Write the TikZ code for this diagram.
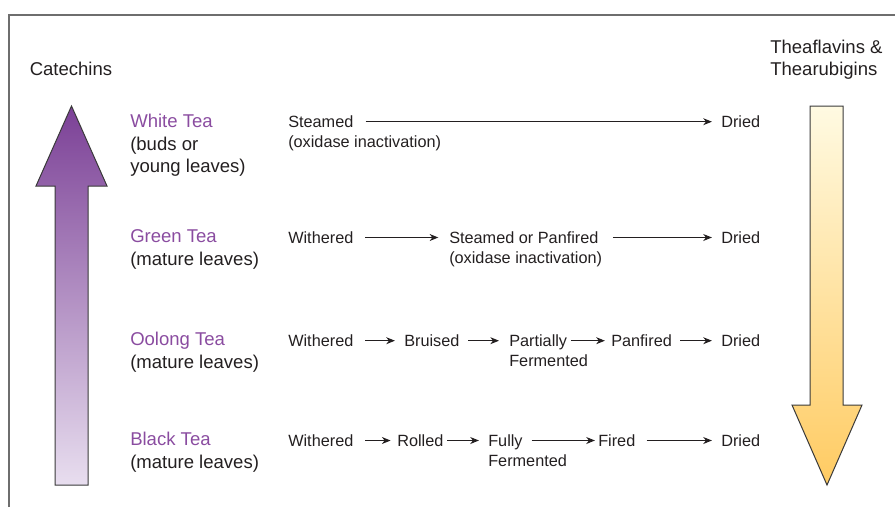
\documentclass[tikz,border=0pt]{standalone}
\usepackage{fontspec}
\setmainfont{Liberation Sans}
\usetikzlibrary{arrows.meta}
\definecolor{txt}{HTML}{231F20}
\definecolor{teapurple}{RGB}{138,76,160}
\definecolor{framegray}{HTML}{6E6E6E}
\definecolor{purtop}{HTML}{7B4096}
\definecolor{purbot}{HTML}{E8DEEF}
\definecolor{yeltop}{HTML}{FFFAE2}
\definecolor{yelbot}{HTML}{FFCB62}
\definecolor{outl}{HTML}{3A3A3A}
\begin{document}
\begin{tikzpicture}[x=0.75pt,y=-0.75pt,
  hdr/.style={font=\fontsize{13.9pt}{16.5pt}\selectfont, text=txt, anchor=west, inner sep=0pt, text height=9.95pt, text depth=0pt},
  lbl/.style={hdr},
  tname/.style={hdr, text=teapurple},
  stp/.style={font=\fontsize{12.2pt}{15pt}\selectfont, text=txt, anchor=west, inner sep=0pt, text height=8.73pt, text depth=0pt},
  flow/.style={-{Stealth[length=6.5pt,width=5.2pt,inset=2pt]}, line width=0.75pt, draw=txt},
  bigarrow/.style={draw=outl, line width=0.75pt}
]
\useasboundingbox (0,0) rectangle (895,507);
% frame
\draw[framegray, line width=1pt] (9,507) -- (9,15) -- (895,15);

% headers
\node[hdr] (cat) at (29.5,69) {Catechins};
\node[hdr] (th1) at (770,46.5) {Theaflavins \&};
\node[hdr] (th2) at (770,69) {Thearubigins};

% big arrows
\shadedraw[bigarrow, top color=purtop, bottom color=purbot]
  (55,485) -- (55,186) -- (36,186) -- (71.5,106) -- (107,186) -- (88,186) -- (88,485) -- cycle;
\shadedraw[bigarrow, top color=yeltop, bottom color=yelbot]
  (810,106) -- (843,106) -- (843,405) -- (862,405) -- (827,485) -- (792,405) -- (810,405) -- cycle;

% tea labels
\node[tname] (wt) at (130,120.5) {White Tea};
\node[lbl] (wt2) at (130,143.5) {(buds or};
\node[lbl] (wt3) at (130,166) {young leaves)};
\node[tname] (gt) at (130,236) {Green Tea};
\node[lbl] (gt2) at (130,259) {(mature leaves)};
\node[tname] (ot) at (130,338.7) {Oolong Tea};
\node[lbl] (ot2) at (130,361.7) {(mature leaves)};
\node[tname] (bt) at (130,439) {Black Tea};
\node[lbl] (bt2) at (130,462) {(mature leaves)};

% row 1 (white)
\node[stp] (a1) at (288,121.7) {Steamed};
\node[stp] (a1b) at (288,141.5) {(oxidase inactivation)};
\node[stp] (a2) at (721,121.7) {Dried};
\draw[flow] ([xshift=8.9pt]a1.east) -- ([xshift=-6.8pt]a2.west);

% row 2 (green)
\node[stp] (b1) at (288,237.5) {Withered};
\node[stp] (b2) at (449,237.5) {Steamed or Panfired};
\node[stp] (b2b) at (449,257.5) {(oxidase inactivation)};
\node[stp] (b3) at (721,237.5) {Dried};
\draw[flow] ([xshift=8.9pt]b1.east) -- ([xshift=-8pt]b2.west);
\draw[flow] ([xshift=10.6pt]b2.east) -- ([xshift=-6.8pt]b3.west);

% row 3 (oolong)
\node[stp] (c1) at (288,340.7) {Withered};
\node[stp] (c2) at (404,340.7) {Bruised};
\node[stp] (c3) at (509,340.7) {Partially};
\node[stp] (c3b) at (509,360.7) {Fermented};
\node[stp] (c4) at (611,340.7) {Panfired};
\node[stp] (c5) at (721,340.7) {Dried};
\draw[flow] ([xshift=8.9pt]c1.east) -- ([xshift=-6.8pt]c2.west);
\draw[flow] ([xshift=6.6pt]c2.east) -- ([xshift=-7.5pt]c3.west);
\draw[flow] ([xshift=2.6pt]c3.east) -- ([xshift=-4.6pt]c4.west);
\draw[flow] ([xshift=6.2pt]c4.east) -- ([xshift=-6.8pt]c5.west);

% row 4 (black)
\node[stp] (d1) at (288,440.5) {Withered};
\node[stp] (d2) at (397,440.5) {Rolled};
\node[stp] (d3) at (488,440.5) {Fully};
\node[stp] (d3b) at (488,460.5) {Fermented};
\node[stp] (d4) at (598,440.5) {Fired};
\node[stp] (d5) at (721,440.5) {Dried};
\draw[flow] ([xshift=8.6pt]d1.east) -- ([xshift=-4.8pt]d2.west);
\draw[flow] ([xshift=2.6pt]d2.east) -- ([xshift=-6.8pt]d3.west);
\draw[flow] ([xshift=6.5pt]d3.east) -- ([xshift=-2.3pt]d4.west);
\draw[flow] ([xshift=8.3pt]d4.east) -- ([xshift=-6.8pt]d5.west);
\end{tikzpicture}
\end{document}
